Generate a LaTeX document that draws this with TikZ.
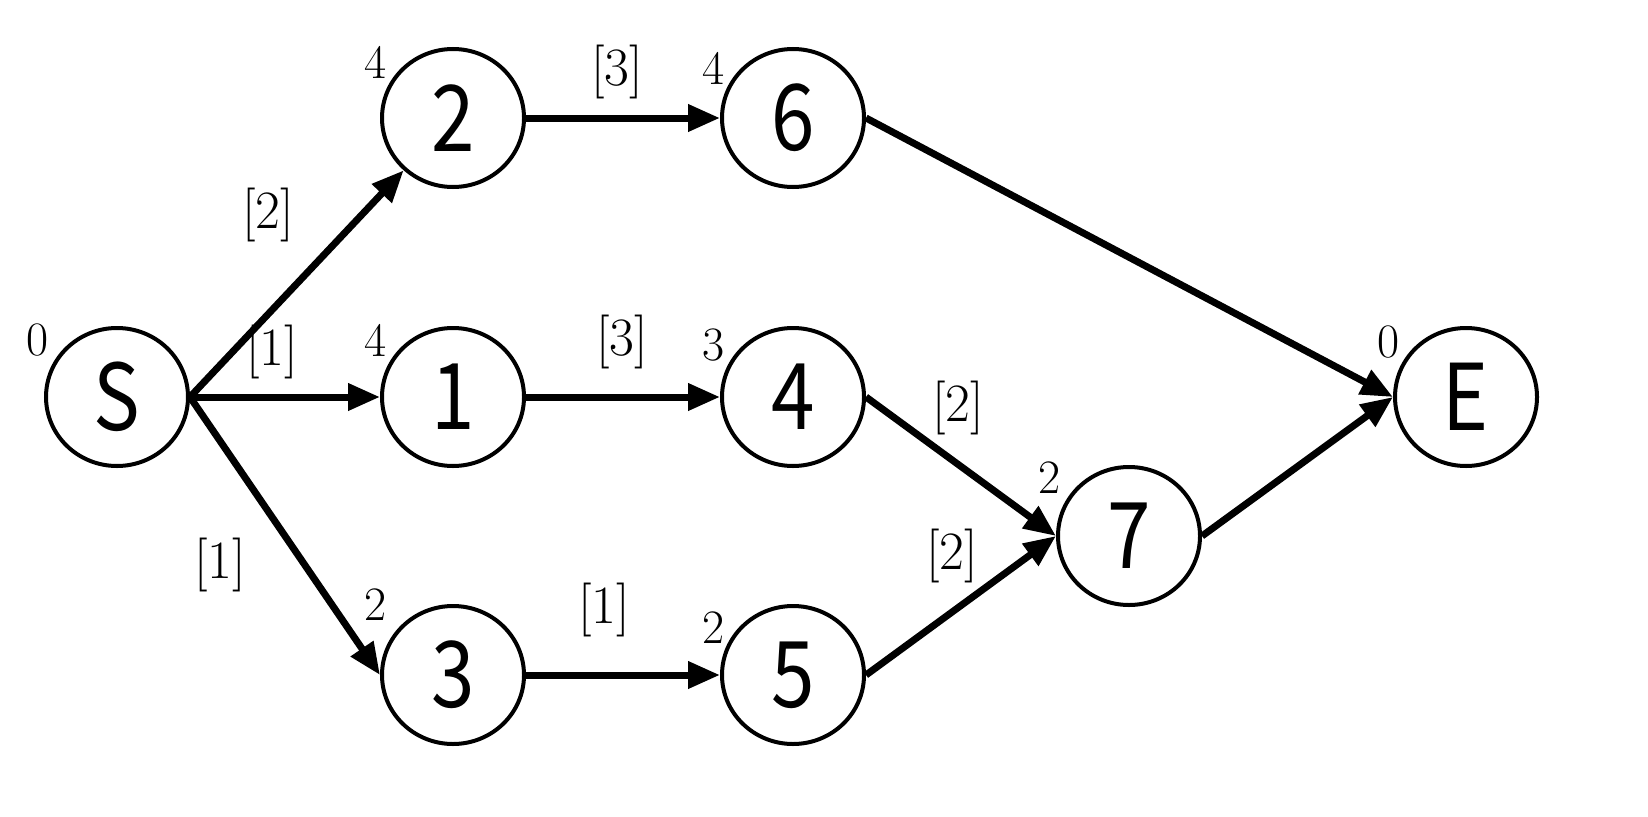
\documentclass[tikz,border=0pt]{standalone}
\usepackage{fontspec}
\newfontfamily\gothic{Noto Sans CJK JP}
\usetikzlibrary{arrows.meta,shapes.geometric}
\begin{document}
\begin{tikzpicture}[x=1pt,y=-1pt,
  nd/.style={draw,line width=4pt,ellipse,minimum width=142pt,minimum height=138pt,inner sep=0pt,font=\gothic\fontsize{92}{92}\selectfont},
  ed/.style={line width=7pt,-{Triangle[length=32pt,width=26pt]}},
  lb/.style={font=\fontsize{54}{54}\selectfont,inner sep=0pt},
  nb/.style={font=\fontsize{48}{48}\selectfont,inner sep=0pt}]
\useasboundingbox (0,0) rectangle (1648,816);
\node[nd] (S) at (117,397) {\scalebox{0.85}[1]{S}};
\node[nd] (n2) at (453,118) {\scalebox{0.85}[1]{2}};
\node[nd] (n6) at (793,118) {\scalebox{0.85}[1]{6}};
\node[nd] (n1) at (453,397) {\scalebox{0.85}[1]{1}};
\node[nd] (n4) at (793,397) {\scalebox{0.85}[1]{4}};
\node[nd] (n3) at (453,675) {\scalebox{0.85}[1]{3}};
\node[nd] (n5) at (793,675) {\scalebox{0.85}[1]{5}};
\node[nd] (n7) at (1129,536) {\scalebox{0.85}[1]{7}};
\node[nd] (E) at (1466,397) {\scalebox{0.85}[1]{E}};
\draw[ed] (S.east) -- (n2);
\draw[ed] (S.east) -- (n1.west);
\draw[ed] (S.east) -- (n3.west);
\draw[ed] (n2.east) -- (n6.west);
\draw[ed] (n1.east) -- (n4.west);
\draw[ed] (n3.east) -- (n5.west);
\draw[ed] (n6.east) -- (E.west);
\draw[ed] (n4.east) -- (n7.west);
\draw[ed] (n5.east) -- (n7.west);
\draw[ed] (n7.east) -- (E.west);
\node[nb] (t0) at (38,340) {0};
\node[lb] (a1) at (272,352) {[1]};
\node[lb] (a2) at (268,215) {[2]};
\node[lb] (a3) at (220,565) {[1]};
\node[nb] (t2) at (376,62) {4};
\node[lb] (a4) at (617,72) {[3]};
\node[nb] (t6) at (714,68) {4};
\node[nb] (t1) at (376,340) {4};
\node[lb] (a5) at (622,342) {[3]};
\node[nb] (t4) at (714,345) {3};
\node[nb] (t3) at (376,605) {2};
\node[lb] (a6) at (604,610) {[1]};
\node[nb] (t5) at (714,628) {2};
\node[lb] (a7) at (958,408) {[2]};
\node[nb] (t7) at (1050,478) {2};
\node[lb] (a8) at (952,556) {[2]};
\node[nb] (tE) at (1388,342) {0};
\end{tikzpicture}
\end{document}
